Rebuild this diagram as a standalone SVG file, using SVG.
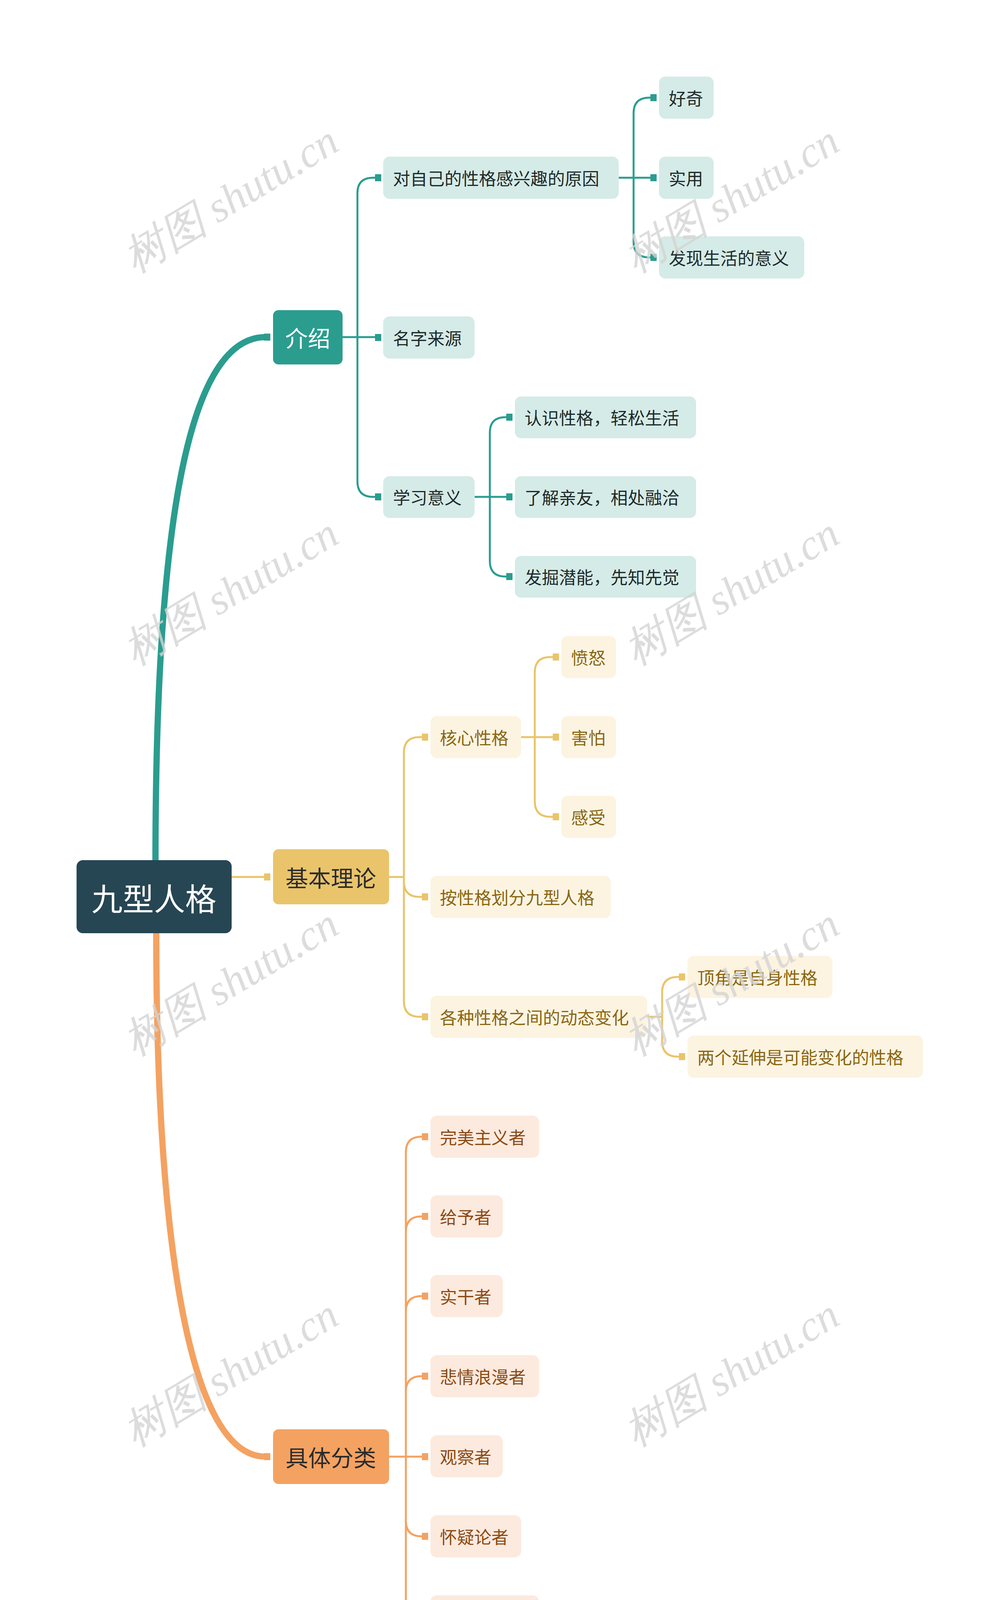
<svg xmlns="http://www.w3.org/2000/svg" width="2560" height="4797" viewBox="0 0 2560 4797">
<style>
text{font-family:"Noto Sans CJK SC","Noto Sans",sans-serif;dominant-baseline:central}
.lt{font-size:44px}
.tl rect{fill:#d5ebe7}.tl text{fill:#1e2a2a}
.yl rect{fill:#fcf4e1}.yl text{fill:#8a6612}
.ol rect{fill:#fdeade}.ol text{fill:#8c4a14}
.t{stroke:#2a9d8f;fill:none;stroke-width:5}
.y{stroke:#e9c46a;fill:none;stroke-width:5}
.o{stroke:#f4a261;fill:none;stroke-width:5}
.sqt{fill:#2a9d8f}.sqy{fill:#e9c46a}.sqo{fill:#f4a261}
.wm{font-family:"Liberation Serif",serif;font-style:italic;font-size:110px;fill:#d4d4d4;dominant-baseline:auto}
</style>
<rect width="2560" height="4797" fill="#fff"/>
<g id="connectors">
<path d="M398,2210 C398,1400 470,863 680,863" stroke="#2a9d8f" stroke-width="16" fill="none"/>
<path d="M400,2385 C400,3100 470,3729 680,3729" stroke="#f4a261" stroke-width="16" fill="none"/>
<path class="y" d="M593,2245 H684"/>
<rect class="sqt" x="676" y="854" width="16" height="18"/>
<rect class="sqy" x="676" y="2236" width="16" height="18"/>
<rect class="sqo" x="676" y="3720" width="16" height="18"/>
<!-- teal L2 -->
<path class="t" d="M877,863 H915 M915,863 V495 Q915,455 955,455 H968 M915,863 H968 M915,863 V1232 Q915,1272 955,1272 H968"/>
<rect class="sqt" x="960" y="446" width="16" height="18"/><rect class="sqt" x="960" y="855" width="16" height="18"/><rect class="sqt" x="960" y="1263" width="16" height="18"/>
<path class="t" d="M1584,455 H1622 M1622,455 V290 Q1622,250 1662,250 H1672 M1622,455 H1672 M1622,455 V619 Q1622,659 1662,659 H1672"/>
<rect class="sqt" x="1665" y="241" width="16" height="18"/><rect class="sqt" x="1665" y="446" width="16" height="18"/><rect class="sqt" x="1665" y="650" width="16" height="18"/>
<path class="t" d="M1215,1272 H1254 M1254,1272 V1108 Q1254,1068 1294,1068 H1302 M1254,1272 H1302 M1254,1272 V1436 Q1254,1476 1294,1476 H1302"/>
<rect class="sqt" x="1296" y="1059" width="16" height="18"/><rect class="sqt" x="1296" y="1263" width="16" height="18"/><rect class="sqt" x="1296" y="1467" width="16" height="18"/>
<!-- yellow -->
<path class="y" d="M996,2245 H1034 M1034,2245 V1927 Q1034,1887 1074,1887 H1088 M1034,2245 V2256 Q1034,2296 1074,2296 H1088 M1034,2245 V2563 Q1034,2603 1074,2603 H1088"/>
<rect class="sqy" x="1080" y="1878" width="16" height="18"/><rect class="sqy" x="1080" y="2287" width="16" height="18"/><rect class="sqy" x="1080" y="2594" width="16" height="18"/>
<path class="y" d="M1334,1887 H1369 M1369,1887 V1722 Q1369,1682 1409,1682 H1422 M1369,1887 H1422 M1369,1887 V2051 Q1369,2091 1409,2091 H1422"/>
<rect class="sqy" x="1415" y="1673" width="16" height="18"/><rect class="sqy" x="1415" y="1878" width="16" height="18"/><rect class="sqy" x="1415" y="2082" width="16" height="18"/>
<path class="y" d="M1657,2603 H1695 M1695,2603 V2541 Q1695,2501 1735,2501 H1745 M1695,2603 V2665 Q1695,2705 1735,2705 H1745"/>
<rect class="sqy" x="1738" y="2492" width="16" height="18"/><rect class="sqy" x="1738" y="2696" width="16" height="18"/>
<!-- orange -->
<path class="o" d="M996,3729 H1039 M1039,3729 V2950 Q1039,2910 1079,2910 H1088 M1039,3729 V3154 Q1039,3114 1079,3114 H1088 M1039,3729 V3358 Q1039,3318 1079,3318 H1088 M1039,3729 V3563 Q1039,3523 1079,3523 H1088 M1039,3729 H1088 M1039,3729 V3893 Q1039,3933 1079,3933 H1088 M1039,3729 V4098 Q1039,4138 1079,4138 H1088 M1039,3729 V4303 Q1039,4343 1079,4343 H1088 M1039,3729 V4508 Q1039,4548 1079,4548 H1088"/>
<rect class="sqo" x="1080" y="2901" width="16" height="18"/><rect class="sqo" x="1080" y="3105" width="16" height="18"/><rect class="sqo" x="1080" y="3309" width="16" height="18"/><rect class="sqo" x="1080" y="3514" width="16" height="18"/><rect class="sqo" x="1080" y="3720" width="16" height="18"/><rect class="sqo" x="1080" y="3924" width="16" height="18"/><rect class="sqo" x="1080" y="4129" width="16" height="18"/><rect class="sqo" x="1080" y="4334" width="16" height="18"/><rect class="sqo" x="1080" y="4539" width="16" height="18"/>
</g>
<g id="root"><rect x="196" y="2202" width="397" height="187" rx="16" fill="#264653"/><text x="394" y="2296" font-size="80" fill="#fff" text-anchor="middle">九型人格</text></g>
<g id="n-intro"><rect x="699" y="794" width="178" height="139" rx="14" fill="#2a9d8f"/><text x="788" y="863" font-size="58" fill="#fff" text-anchor="middle">介绍</text></g>
<g id="n-theory"><rect x="699" y="2174" width="297" height="141" rx="14" fill="#e9c46a"/><text x="847" y="2245" font-size="58" fill="#2b2b2b" text-anchor="middle">基本理论</text></g>
<g id="n-class"><rect x="699" y="3659" width="297" height="140" rx="14" fill="#f4a261"/><text x="847" y="3729" font-size="58" fill="#2b2b2b" text-anchor="middle">具体分类</text></g>
<g class="tl lt">
<g id="t1"><rect x="981" y="401" width="603" height="108" rx="16"/><text x="1006" y="455">对自己的性格感兴趣的原因</text></g>
<g id="t2"><rect x="981" y="810" width="234" height="108" rx="16"/><text x="1006" y="864">名字来源</text></g>
<g id="t3"><rect x="981" y="1219" width="234" height="107" rx="16"/><text x="1006" y="1272">学习意义</text></g>
<g id="t11"><rect x="1687" y="196" width="140" height="108" rx="16"/><text x="1712" y="250">好奇</text></g>
<g id="t12"><rect x="1687" y="401" width="140" height="108" rx="16"/><text x="1712" y="455">实用</text></g>
<g id="t13"><rect x="1687" y="605" width="372" height="108" rx="16"/><text x="1712" y="659">发现生活的意义</text></g>
<g id="t31"><rect x="1318" y="1015" width="464" height="107" rx="16"/><text x="1343" y="1068">认识性格，轻松生活</text></g>
<g id="t32"><rect x="1318" y="1219" width="464" height="107" rx="16"/><text x="1343" y="1272">了解亲友，相处融洽</text></g>
<g id="t33"><rect x="1318" y="1423" width="464" height="107" rx="16"/><text x="1343" y="1476">发掘潜能，先知先觉</text></g>
</g>
<g class="yl lt">
<g id="y1"><rect x="1102" y="1833" width="232" height="108" rx="16"/><text x="1126" y="1887">核心性格</text></g>
<g id="y2"><rect x="1102" y="2242" width="462" height="108" rx="16"/><text x="1126" y="2296">按性格划分九型人格</text></g>
<g id="y3"><rect x="1102" y="2549" width="555" height="108" rx="16"/><text x="1126" y="2603">各种性格之间的动态变化</text></g>
<g id="y11"><rect x="1437" y="1628" width="140" height="108" rx="16"/><text x="1462" y="1682">愤怒</text></g>
<g id="y12"><rect x="1437" y="1833" width="140" height="108" rx="16"/><text x="1462" y="1887">害怕</text></g>
<g id="y13"><rect x="1437" y="2037" width="140" height="108" rx="16"/><text x="1462" y="2091">感受</text></g>
<g id="y31"><rect x="1760" y="2447" width="371" height="108" rx="16"/><text x="1785" y="2501">顶角是自身性格</text></g>
<g id="y32"><rect x="1760" y="2651" width="603" height="108" rx="16"/><text x="1785" y="2705">两个延伸是可能变化的性格</text></g>
</g>
<g class="ol lt">
<g id="o1"><rect x="1102" y="2856" width="278" height="108" rx="16"/><text x="1126" y="2910">完美主义者</text></g>
<g id="o2"><rect x="1102" y="3060" width="185" height="108" rx="16"/><text x="1126" y="3114">给予者</text></g>
<g id="o3"><rect x="1102" y="3264" width="185" height="108" rx="16"/><text x="1126" y="3318">实干者</text></g>
<g id="o4"><rect x="1102" y="3469" width="278" height="108" rx="16"/><text x="1126" y="3523">悲情浪漫者</text></g>
<g id="o5"><rect x="1102" y="3674" width="185" height="108" rx="16"/><text x="1126" y="3728">观察者</text></g>
<g id="o6"><rect x="1102" y="3879" width="232" height="108" rx="16"/><text x="1126" y="3933">怀疑论者</text></g>
<g id="o7"><rect x="1102" y="4084" width="278" height="108" rx="16"/><text x="1126" y="4138">享乐主义者</text></g>
<g id="o8"><rect x="1102" y="4289" width="185" height="108" rx="16"/><text x="1126" y="4343">保护者</text></g>
<g id="o9"><rect x="1102" y="4494" width="185" height="108" rx="16"/><text x="1126" y="4548">调停者</text></g>
</g>
<g id="watermarks" opacity="0.8">
<text class="wm" transform="translate(345,700) rotate(-31)">树图 shutu.cn</text>
<text class="wm" transform="translate(1627,700) rotate(-31)">树图 shutu.cn</text>
<text class="wm" transform="translate(345,1705) rotate(-31)">树图 shutu.cn</text>
<text class="wm" transform="translate(1627,1705) rotate(-31)">树图 shutu.cn</text>
<text class="wm" transform="translate(345,2705) rotate(-31)">树图 shutu.cn</text>
<text class="wm" transform="translate(1627,2705) rotate(-31)">树图 shutu.cn</text>
<text class="wm" transform="translate(345,3705) rotate(-31)">树图 shutu.cn</text>
<text class="wm" transform="translate(1627,3705) rotate(-31)">树图 shutu.cn</text>
<text class="wm" transform="translate(345,4705) rotate(-31)">树图 shutu.cn</text>
<text class="wm" transform="translate(1627,4705) rotate(-31)">树图 shutu.cn</text>
</g>
</svg>
